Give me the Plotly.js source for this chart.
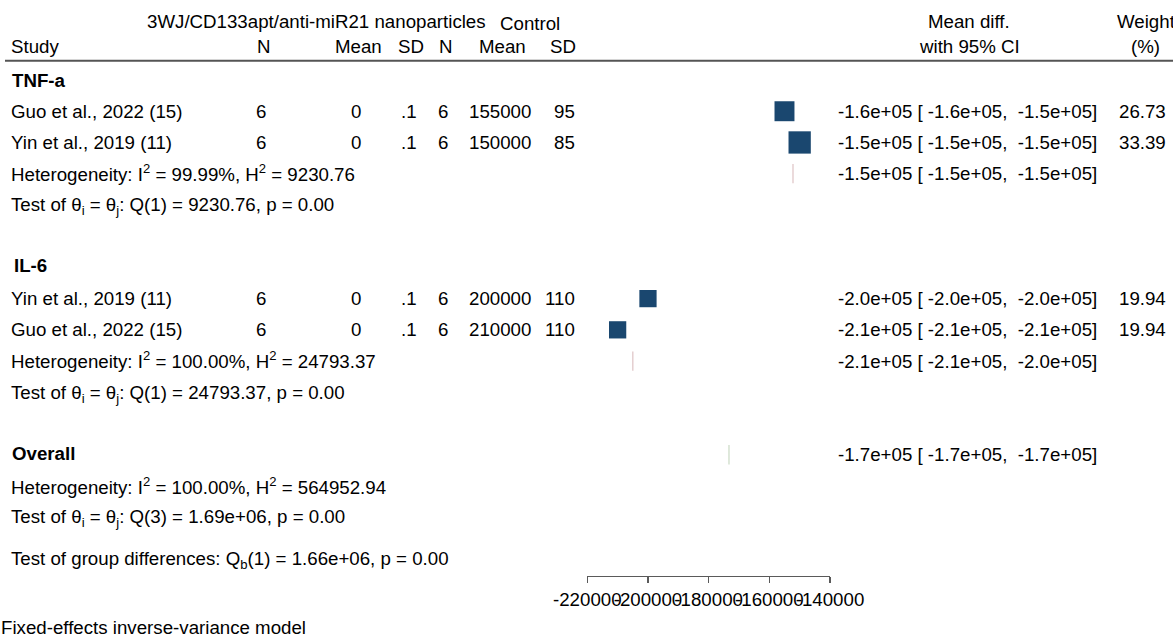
<!DOCTYPE html>
<html>
<head>
<meta charset="utf-8">
<script src="https://cdn.plot.ly/plotly-3.0.1.min.js"></script>
<style>html,body{margin:0;padding:0;background:#fff;}#chart{width:1173px;height:634px;}</style>
</head>
<body>
<div id="chart"></div>
<script>
// ---------------- DATA ----------------
const studies   = ["Guo et al., 2022 (15)", "Yin et al., 2019 (11)", "Yin et al., 2019 (11)", "Guo et al., 2022 (15)"];
const groupOf   = ["TNF-a", "TNF-a", "IL-6", "IL-6"];
const n1        = [6, 6, 6, 6];
const mean1     = [0, 0, 0, 0];
const sd1       = [0.1, 0.1, 0.1, 0.1];
const n2        = [6, 6, 6, 6];
const mean2     = [155000, 150000, 200000, 210000];
const sd2       = [95, 85, 110, 110];
const meanDiff  = [-155000, -150000, -200000, -210000];
const ciText    = ["-1.6e+05 [ -1.6e+05,  -1.5e+05]", "-1.5e+05 [ -1.5e+05,  -1.5e+05]",
                   "-2.0e+05 [ -2.0e+05,  -2.0e+05]", "-2.1e+05 [ -2.1e+05,  -2.1e+05]"];
const weights   = [26.73, 33.39, 19.94, 19.94];

const groups        = ["TNF-a", "IL-6"];
const groupEst      = [-152200, -205000];
const groupCiText   = ["-1.5e+05 [ -1.5e+05,  -1.5e+05]", "-2.1e+05 [ -2.1e+05,  -2.0e+05]"];
const groupI2       = ["99.99%", "100.00%"];
const groupH2       = ["9230.76", "24793.37"];
const groupQ        = ["9230.76", "24793.37"];
const groupDf       = [1, 1];
const groupP        = ["0.00", "0.00"];

const overallEst    = -173300;
const overallCiText = "-1.7e+05 [ -1.7e+05,  -1.7e+05]";
const overallI2     = "100.00%";
const overallH2     = "564952.94";
const overallQ      = "1.69e+06";
const overallDf     = 3;
const overallP      = "0.00";
const groupDiffQb   = "1.66e+06";
const groupDiffDf   = 1;
const groupDiffP    = "0.00";

const tickValues = [-220000, -200000, -180000, -160000, -140000];
const tickLabels = ["-220000", "-200000", "-180000", "-160000", "-140000"];

// ---------------- LAYOUT HELPERS ----------------
const W = 1173, H = 634;
const ROW0 = 80, ROWH = 31.23;           // pixel centre of first row, row spacing
const rowOf = px => (px - ROW0) / ROWH;
const FONT = "Liberation Sans, Arial, Helvetica, sans-serif";
const FS = 18.7;
const nb = s => s.replace(/ /g, "\u00a0");
const fmtSD = v => String(v).replace(/^0\./, ".");

const ann = [];
function T(text, px, row, anchor, extra) {
  const a = {xref: "paper", yref: "y", x: px / W, y: row, xanchor: anchor || "left", yanchor: "middle",
             text: text, showarrow: false, borderpad: 0,
             font: {family: FONT, size: FS, color: "#000"}};
  return ann.push(Object.assign(a, extra || {}));
}

// Header
T("3WJ/CD133apt/anti-miR21 nanoparticles", 316, rowOf(21.7), "center");
T("Control", 529.5, rowOf(23.5), "center");
T("Study", 10, rowOf(46.7), "left");
const hdrRow = rowOf(46.7);
T("N", 264, hdrRow, "center");
T("Mean", 359, hdrRow, "center");
T("SD", 411, hdrRow, "center");
T("N", 446, hdrRow, "center");
T("Mean", 502, hdrRow, "center");
T("SD", 577, hdrRow, "right");
T("Mean diff.", 969, rowOf(21.7), "center");
T("with 95% CI", 969, hdrRow, "center");
T("Weight", 1116, rowOf(21.7), "left");
T("(%)", 1145.5, hdrRow, "center");

// Row assignment
const groupHeaderRow = [0, 6];
const studyRows = [1, 2, 7, 8];
const groupSumRow = [3, 9];
const overallRow = 12;

groups.forEach((g, gi) => {
  T("<b>" + g + "</b>", gi === 0 ? 11 : 13, groupHeaderRow[gi] - (gi === 0 ? 0 : 0.06), "left");
  const r = groupSumRow[gi];
  T(nb("Heterogeneity: I<sup>2</sup> = " + groupI2[gi] + ", H<sup>2</sup> = " + groupH2[gi]), 10, r - 0.03, "left");
  T(nb("Test of θ<sub>i</sub> = θ<sub>j</sub>: Q(" + groupDf[gi] + ") = " + groupQ[gi] + ", p = " + groupP[gi]), 10, r + 1 + 0.04, "left");
  T(nb(groupCiText[gi]), 837, r, "left");
});

studies.forEach((s, i) => {
  const r = studyRows[i];
  T(s, 10, r, "left");
  T(String(n1[i]), 261, r, "center");
  T(String(mean1[i]), 356, r, "center");
  T(fmtSD(sd1[i]), 408.5, r, "center");
  T(String(n2[i]), 443, r, "center");
  T(String(mean2[i]), 532, r, "right");
  T(String(sd2[i]), 576, r, "right");
  T(nb(ciText[i]), 837, r, "left");
  T(weights[i].toFixed(2), 1167, r, "right");
});

T("<b>Overall</b>", 11, overallRow - 0.03, "left");
T(nb(overallCiText), 837, overallRow, "left");
T(nb("Heterogeneity: I<sup>2</sup> = " + overallI2 + ", H<sup>2</sup> = " + overallH2), 10, overallRow + 1, "left");
T(nb("Test of θ<sub>i</sub> = θ<sub>j</sub>: Q(" + overallDf + ") = " + overallQ + ", p = " + overallP), 10, overallRow + 2 + 0.04, "left");
T(nb("Test of group differences: Q<sub>b</sub>(" + groupDiffDf + ") = " + groupDiffQb + ", p = " + groupDiffP), 10, rowOf(560), "left");
T("Fixed-effects inverse-variance model", 0, rowOf(627), "left");

// ---------------- TRACES ----------------
const squares = {
  type: "scatter", mode: "markers",
  x: meanDiff, y: studyRows,
  marker: {symbol: "square", color: "#1a476f", opacity: 1,
           size: weights.map(w => 3.86 * Math.sqrt(w)), line: {width: 0}},
  hoverinfo: "skip", cliponaxis: false
};
const diamondH = 0.31;
function vline(xv, r, color) {
  return {type: "scatter", mode: "lines", x: [xv, xv], y: [r - diamondH, r + diamondH],
          line: {color: color, width: 1.3}, hoverinfo: "skip", cliponaxis: false};
}
const traces = [squares,
  vline(groupEst[0], groupSumRow[0], "rgba(144,53,59,0.28)"),
  vline(groupEst[1], groupSumRow[1], "rgba(144,53,59,0.28)"),
  vline(overallEst, overallRow, "rgba(60,120,40,0.25)")];

const xL = 587.3, xR = 830;
const layout = {
  width: W, height: H,
  margin: {l: 0, r: 0, t: 0, b: 0, pad: 0},
  paper_bgcolor: "#fff", plot_bgcolor: "rgba(0,0,0,0)",
  showlegend: false,
  xaxis: {
    domain: [xL / W, xR / W], range: [-220000, -140000], autorange: false,
    anchor: "free", position: (H - 575.7) / H,
    showgrid: false, zeroline: false,
    showline: true, linecolor: "#5a5a5a", linewidth: 1.4,
    ticks: "outside", ticklen: 6, tickwidth: 1.4, tickcolor: "#5a5a5a",
    tickvals: tickValues, ticktext: tickLabels, tickangle: 0,
    tickfont: {family: FONT, size: FS, color: "#000"}
  },
  yaxis: {
    domain: [0, 1], range: [rowOf(H), rowOf(0)], autorange: false,
    visible: false, showgrid: false, zeroline: false
  },
  shapes: [{type: "line", xref: "paper", yref: "paper", x0: 5 / W, x1: 1, y0: 1 - 60.7 / H, y1: 1 - 60.7 / H,
            line: {color: "#555", width: 2}}],
  annotations: ann
};

Plotly.newPlot("chart", traces, layout, {staticPlot: true, displayModeBar: false});
</script>
</body>
</html>
